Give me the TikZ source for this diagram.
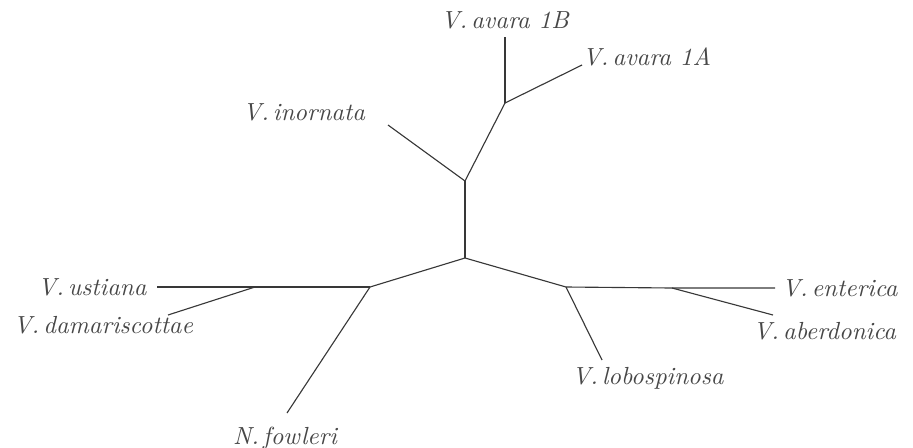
\documentclass[tikz,border=0pt]{standalone}
\usepackage{tikz}
\usetikzlibrary{positioning}

\begin{document}
\begin{tikzpicture}[
    x=0.4pt,
    y=-0.4pt,
    node distance=0pt,
    branch/.style={
        draw=black!78,
        line width=0.45pt
    },
    taxon/.style={
        font=\fontsize{9.9}{11}\selectfont\itshape,
        text=black!72,
        inner sep=1pt
    }
]
    \useasboundingbox (0,0) rectangle (913,447);

    % --- INTERNAL NODES ---
    \coordinate (root) at (465,258);
    \coordinate (upper) at (465,181);
    \coordinate (avara) at (505,103);
    \coordinate (west) at (370,287);
    \coordinate (ustdam) at (255,287);
    \coordinate (east) at (566,287);
    \coordinate (entabe) at (672,288);

    % --- LEAVES ---
    \coordinate (avaraB) at (505,37);
    \coordinate (avaraA) at (582,65);
    \coordinate (inornata) at (388,125);
    \coordinate (ustiana) at (157,287);
    \coordinate (damariscottae) at (168,315);
    \coordinate (fowleri) at (287,413);
    \coordinate (lobospinosa) at (602,360);
    \coordinate (enterica) at (775,288);
    \coordinate (aberdonica) at (773,315);

    % --- LABELS ---
    \node [taxon, above=2pt of avaraB] (labB) {V.\,avara 1B};
    \node [taxon, anchor=base west] (labA) at ([xshift=-1]avaraA) {V.\,avara 1A};
    \node [taxon, anchor=base east] (labIno) at ([xshift=-8,yshift=2]inornata) {V.\,inornata};
    \node [taxon, left=3pt of ustiana] (labUst) {V.\,ustiana};
    \node [taxon, anchor=north east] (labDam) at (196,313) {V.\,damariscottae};
    \node [taxon, anchor=north] (labFow) at (285,424) {N.\,fowleri};
    \node [taxon, anchor=north west] (labLob) at (569,364) {V.\,lobospinosa};
    \node [taxon, right=1.5pt of enterica] (labEnt) {V.\,enterica};
    \node [taxon, anchor=north west] (labAbe) at (750,319) {V.\,aberdonica};

    % --- BRANCHES ---
    % upper clade
    \draw [branch] (root) -- (upper);
    \draw [branch] (upper) -- (inornata);
    \draw [branch] (upper) -- (avara);
    \draw [branch] (avara) -- (avaraB);
    \draw [branch] (avara) -- (avaraA);

    % left clade
    \draw [branch] (root) -- (west);
    \draw [branch] (west) -- (ustdam) -- (ustiana);
    \draw [branch] (ustdam) -- (damariscottae);
    \draw [branch] (west) -- (fowleri);

    % right clade
    \draw [branch] (root) -- (east);
    \draw [branch] (east) -- (entabe) -- (enterica);
    \draw [branch] (entabe) -- (aberdonica);
    \draw [branch] (east) -- (lobospinosa);

\end{tikzpicture}
\end{document}
